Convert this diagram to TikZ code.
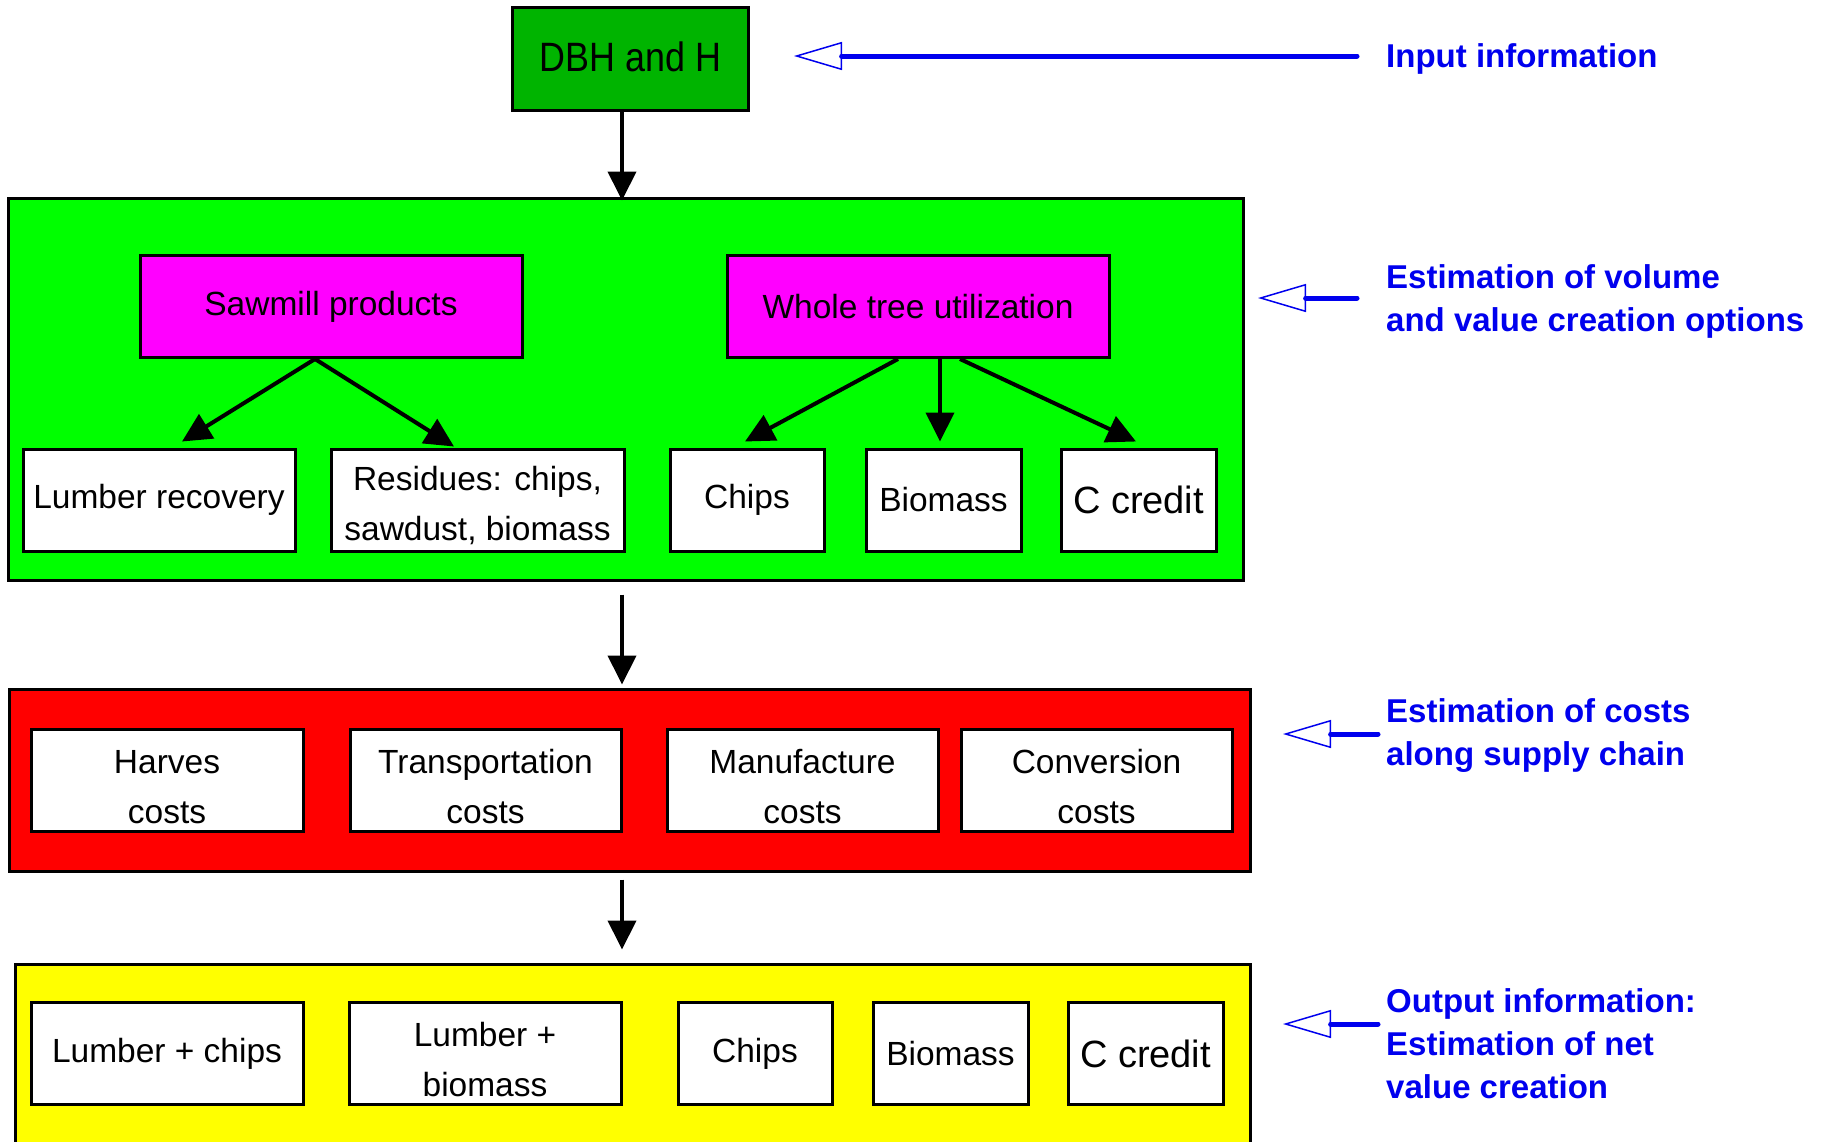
\documentclass[tikz,border=0pt]{standalone}
\usepackage{fontspec}
\setmainfont{Liberation Sans}
\newfontfamily\dbhfont[FakeStretch=0.875]{Liberation Sans}
\usetikzlibrary{arrows.meta}
\definecolor{dbhgreen}{RGB}{0,180,0}
\definecolor{lblue}{RGB}{0,0,238}
\definecolor{pgreen}{RGB}{0,255,0}
\definecolor{pred}{RGB}{255,0,0}
\definecolor{pyellow}{RGB}{255,255,0}
\definecolor{pmagenta}{RGB}{255,0,255}
\newcommand{\firststrut}{\rule{0pt}{36pt}}
\tikzset{
  region/.style={draw=black, line width=3pt, inner sep=0pt},
  box/.style={draw=black, line width=3pt, fill=white, inner sep=0pt,
    minimum height=102pt, align=center, font=\fontsize{33.5}{50}\selectfont},
  bigtext/.style={font=\fontsize{38}{50}\selectfont},
  blk/.style={draw=black, line width=4pt, -{Triangle[length=29pt,width=28pt]}},
  hollow/.style={draw=lblue, line width=5pt, line cap=round,
    -{Triangle[open,length=48pt,width=28pt,line width=1.5pt]}},
  lbl/.style={anchor=base west, inner sep=0pt, text=lblue,
    font=\bfseries\fontsize{33}{43}\selectfont}
}
\begin{document}
\begin{tikzpicture}[x=1pt,y=-1pt]
\useasboundingbox (0,0) rectangle (1823,1141);
\clip (0,0) rectangle (1823,1141);
\fill[white] (0,0) rectangle (1823,1141);

% regions
\node[region, fill=pgreen, minimum width=1235pt, minimum height=382pt] (green) at (625.5,389) {};
\node[region, fill=pred, minimum width=1241pt, minimum height=182pt] (red) at (629.5,780) {};
\node[region, fill=pyellow, minimum width=1235pt, minimum height=206pt] (yellow) at (632.5,1067) {};

% input
\node[box, fill=dbhgreen, minimum width=236pt, minimum height=103pt,
  font=\dbhfont\fontsize{41}{50}\selectfont] (dbh) at (630.5,58.5) {\raisebox{3.5pt}{DBH and H}};

% green content
\node[box, fill=pmagenta, minimum width=382pt] (saw) at (331,306.5) {Sawmill products};
\node[box, fill=pmagenta, minimum width=382pt] (whole) at (918,306.5) {Whole tree utilization};
\node[box, minimum width=272pt] (lumber) at (159,500) {Lumber recovery};
\node[box, minimum width=293pt] (resid) at (477.5,500) {\firststrut Residues: chips,\\sawdust, biomass};
\node[box, minimum width=154pt] (chipsA) at (747,500) {Chips};
\node[box, minimum width=155pt] (bioA) at (943.5,500) {Biomass};
\node[box, minimum width=155pt, bigtext] (ccA) at (1138.5,500) {C credit};

% red content
\node[box, minimum width=272pt] (harv) at (167,780.5) {\firststrut Harves\\costs};
\node[box, minimum width=271pt] (trans) at (485.5,780.5) {\firststrut Transportation\\costs};
\node[box, minimum width=271pt] (manu) at (802.5,780.5) {\firststrut Manufacture\\costs};
\node[box, minimum width=271pt] (conv) at (1096.5,780.5) {\firststrut Conversion\\costs};

% yellow content
\node[box, minimum width=272pt] (lc) at (167,1053.5) {Lumber + chips};
\node[box, minimum width=272pt] (lb) at (485,1053.5) {\firststrut Lumber +\\biomass};
\node[box, minimum width=154pt] (chipsB) at (755,1053.5) {Chips};
\node[box, minimum width=155pt] (bioB) at (950.5,1053.5) {Biomass};
\node[box, minimum width=155pt, bigtext] (ccB) at (1145.5,1053.5) {C credit};

% black arrows
\draw[blk] ([xshift=-8.5pt]dbh.south) -- ([shift={(-3.5,4)}]green.north);
\draw[blk] ([xshift=-16pt]saw.south) -- ([shift={(23,-6)}]lumber.north);
\draw[blk] ([xshift=-16pt]saw.south) -- ([shift={(-23.5,-1)}]resid.north);
\draw[blk] ([xshift=-20pt]whole.south) -- ([shift={(-2,-6)}]chipsA.north);
\draw[blk] ([xshift=22pt]whole.south) -- ([shift={(-3.5,-6)}]bioA.north);
\draw[blk] ([xshift=42pt]whole.south) -- ([shift={(-2.5,-6)}]ccA.north);
\draw[blk] ([shift={(-3.5,13)}]green.south) -- ([shift={(-7.5,-3)}]red.north);
\draw[blk] ([shift={(-7.5,7)}]red.south) -- ([shift={(-10.5,-13)}]yellow.north);

% side labels
\node[lbl] (in1) at (1386,67) {Input information};
\node[lbl] (vol1) at (1386,288) {Estimation of volume};
\node[lbl] (vol2) at (1386,331) {and value creation options};
\node[lbl] (cost1) at (1386,722) {Estimation of costs};
\node[lbl] (cost2) at (1386,765) {along supply chain};
\node[lbl] (out1) at (1386,1012) {Output information:};
\node[lbl] (out2) at (1386,1055) {Estimation of net};
\node[lbl] (out3) at (1386,1098) {value creation};

% side arrows
\coordinate (inEnd) at (1357,56);
\coordinate (inTip) at (794,56);
\coordinate (volEnd) at (1357,298);
\coordinate (volTip) at (1258,298);
\coordinate (costEnd) at (1378,734);
\coordinate (costTip) at (1283,734);
\coordinate (outEnd) at (1378,1024);
\coordinate (outTip) at (1283,1024);
\draw[hollow] (inEnd) -- (inTip);
\draw[hollow] (volEnd) -- (volTip);
\draw[hollow] (costEnd) -- (costTip);
\draw[hollow] (outEnd) -- (outTip);
\end{tikzpicture}
\end{document}
